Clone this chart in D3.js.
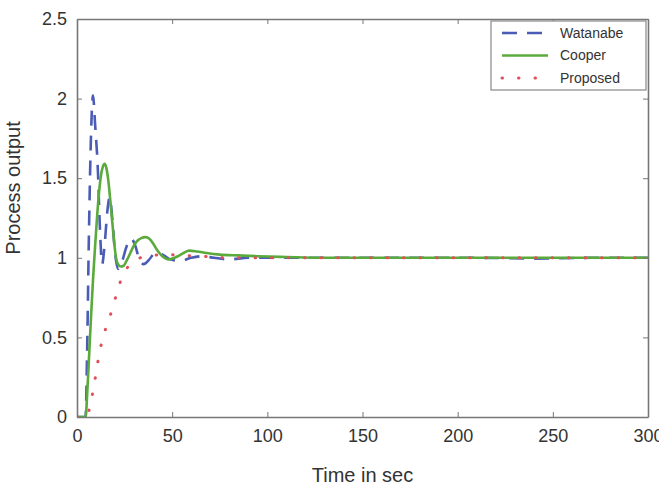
<!DOCTYPE html>
<html>
<head>
<meta charset="utf-8">
<script src="https://cdn.jsdelivr.net/npm/d3@7"></script>
<style>
  body { margin: 0; background: #fff; }
  svg { display: block; font-family: "Liberation Sans", Arial, Helvetica, sans-serif; }
  .axis path, .axis line { stroke: #777; }
  .axis text { fill: #333; font-size: 18px; }
</style>
</head>
<body>
<svg id="chart" width="659" height="490"></svg>
<script>
// values
var seriesNames = ["Watanabe", "Cooper", "Proposed"];
var xTicks = [0, 50, 100, 150, 200, 250, 300];
var yTicks = [0, 0.5, 1, 1.5, 2, 2.5];

var watanabeT = [0, 4.5, 5.3, 6.2, 7.2, 8.4, 9.5, 11, 12, 13.2, 14.5, 16, 17.2, 18.5, 20, 21.5, 23.5, 26, 28.5, 30.5, 32.5, 35, 38, 41, 45, 49, 54, 60, 66, 72, 80, 90, 100, 120, 150, 180, 210, 240, 270, 300];
var watanabeY = [0, 0, 0.4, 1.1, 1.7, 2.02, 1.84, 1.54, 1.2, 0.96, 1.08, 1.3, 1.38, 1.25, 1.03, 0.93, 0.97, 1.07, 1.12, 1.08, 1.0, 0.96, 0.99, 1.03, 1.02, 0.99, 0.98, 1.0, 1.01, 1.0, 0.99, 1.0, 1.0, 1.0, 1.0, 1.0, 1.0, 0.995, 1.0, 1.0];

var cooperT = [0, 4.5, 5.5, 6.5, 7.5, 8.5, 9.5, 10.5, 11.5, 12.5, 13.5, 14.6, 15.5, 16.5, 17.5, 18.5, 19.5, 20.5, 21.5, 23, 24.5, 26, 28, 30, 32, 34, 36, 38, 40, 42, 44, 46, 48, 50, 53, 56, 59, 63, 68, 75, 85, 95, 110, 130, 160, 200, 250, 300];
var cooperY = [0, 0, 0.18, 0.42, 0.66, 0.88, 1.07, 1.25, 1.4, 1.51, 1.57, 1.59, 1.56, 1.48, 1.36, 1.23, 1.1, 1.0, 0.96, 0.945, 0.95, 0.98, 1.03, 1.08, 1.11, 1.125, 1.13, 1.12, 1.09, 1.05, 1.02, 1.0, 0.99, 0.995, 1.01, 1.03, 1.045, 1.04, 1.03, 1.02, 1.015, 1.01, 1.005, 1.0, 1.0, 1.0, 1.0, 1.0];

var proposedT = [0, 5, 6.3, 8.2, 9.8, 11.3, 13.2, 15.8, 18.6, 21.2, 23.7, 26, 28.5, 31, 35, 40, 47, 55, 65, 80, 100, 150, 200, 250, 300];
var proposedY = [0, 0, 0.04, 0.15, 0.26, 0.37, 0.48, 0.58, 0.68, 0.79, 0.88, 0.93, 0.97, 0.99, 1.005, 1.015, 1.02, 1.015, 1.01, 1.0, 1.0, 1.0, 1.0, 1.0, 1.0];

var colors = ["#4a5cb5", "#5aaa3c", "#e0505a"];

var margin = {top: 19, right: 11, bottom: 73, left: 77},
    width = 659 - margin.left - margin.right,
    height = 490 - margin.top - margin.bottom;

var svg = d3.select("#chart")
  .append("g")
  .attr("transform", "translate(" + margin.left + "," + margin.top + ")");

var x = d3.scaleLinear().domain([0, 300]).range([0, width]);
var y = d3.scaleLinear().domain([0, 2.5]).range([height, 0]);

svg.append("clipPath").attr("id", "clip")
  .append("rect").attr("width", width).attr("height", height);

function pts(ts, ys) {
  return ts.map(function(t, i) { return [t, ys[i]]; });
}

var line = d3.line()
  .x(function(d) { return x(d[0]); })
  .y(function(d) { return y(d[1]); })
  .curve(d3.curveMonotoneX);

var series = [
  {name: seriesNames[0], data: pts(watanabeT, watanabeY), color: colors[0], dash: "15,10", cap: "butt", w: 2.6},
  {name: seriesNames[1], data: pts(cooperT, cooperY), color: colors[1], dash: null, cap: "butt", w: 2.6},
  {name: seriesNames[2], data: pts(proposedT, proposedY), color: colors[2], dash: "0.5,16", cap: "round", w: 3}
];

svg.append("g").attr("clip-path", "url(#clip)")
  .selectAll("path")
  .data(series)
  .enter().append("path")
  .attr("d", function(d) { return line(d.data); })
  .attr("fill", "none")
  .attr("stroke", function(d) { return d.color; })
  .attr("stroke-width", function(d) { return d.w; })
  .attr("stroke-linecap", function(d) { return d.cap; })
  .attr("stroke-dasharray", function(d) { return d.dash; });

// axes, ticks pointing inward on all four sides
svg.append("g").attr("class", "axis")
  .attr("transform", "translate(0," + height + ")")
  .call(d3.axisBottom(x).tickValues(xTicks).tickSize(-5).tickPadding(12).tickSizeOuter(0));

svg.append("g").attr("class", "axis")
  .call(d3.axisLeft(y).tickValues(yTicks).tickSize(-5).tickPadding(10).tickSizeOuter(0)
    .tickFormat(function(d) { return d; }));

svg.append("g").attr("class", "axis")
  .call(d3.axisTop(x).tickValues(xTicks).tickSize(-5).tickSizeOuter(0).tickFormat(""));

svg.append("g").attr("class", "axis")
  .attr("transform", "translate(" + width + ",0)")
  .call(d3.axisRight(y).tickValues(yTicks).tickSize(-5).tickSizeOuter(0).tickFormat(""));

svg.selectAll(".axis path").attr("stroke-width", 1.6);

// axis labels
svg.append("text")
  .attr("x", width / 2)
  .attr("y", height + 65)
  .style("text-anchor", "middle")
  .style("font-size", "20px")
  .attr("fill", "#333")
  .text("Time in sec");

svg.append("text")
  .attr("transform", "rotate(-90)")
  .attr("x", -(188 - margin.top))
  .attr("y", -margin.left + 20)
  .style("text-anchor", "middle")
  .style("font-size", "20px")
  .attr("fill", "#333")
  .text("Process output");

// legend
var legend = svg.append("g").attr("transform", "translate(" + (491 - margin.left) + "," + (21 - margin.top) + ")");
legend.append("rect")
  .attr("width", 155).attr("height", 69)
  .attr("fill", "#fff").attr("stroke", "#888").attr("stroke-width", 1.2);

var rows = legend.selectAll(".row")
  .data(series)
  .enter().append("g")
  .attr("transform", function(d, i) { return "translate(0," + (12 + i * 22.5) + ")"; });

rows.append("line")
  .attr("x1", 11).attr("x2", 57)
  .attr("stroke", function(d) { return d.color; })
  .attr("stroke-width", function(d) { return d.w; })
  .attr("stroke-linecap", function(d) { return d.cap; })
  .attr("stroke-dasharray", function(d) { return d.dash; });

rows.append("text")
  .attr("x", 69).attr("dy", "0.35em")
  .style("font-size", "14px")
  .attr("fill", "#333")
  .text(function(d) { return d.name; });
</script>
</body>
</html>
